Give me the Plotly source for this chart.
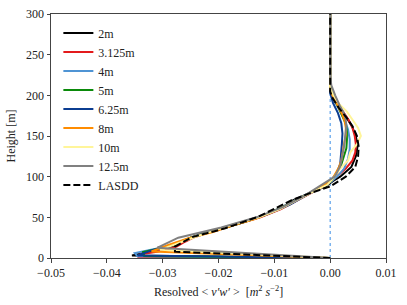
import plotly.graph_objects as go

# ---- data ----
labels = ["2m", "3.125m", "4m", "5m", "6.25m", "8m", "10m", "12.5m", "LASDD"]
colors = ["#000000", "#e31a1c", "#4f94d4", "#0a8a0a", "#0b3d91", "#ff8c00", "#fff59a", "#808080", "#000000"]

z_2m = [0, 3, 6, 10, 15, 20, 25, 31, 37, 44, 50, 60, 71, 80, 88, 95, 100, 112, 125, 137, 150, 162, 172, 185, 198, 210, 300]
v_2m = [0, -0.0355, -0.0335, -0.031, -0.028, -0.0265, -0.025, -0.0225, -0.019, -0.0155, -0.0128, -0.009, -0.0066, -0.0036,
        -0.0008, 0.0006, 0.0018, 0.0038, 0.0046, 0.0049, 0.0046, 0.0039, 0.003, 0.0016, 0.0004, 0.0, 0.0]

z_3m = [0, 1.6, 4.7, 7.8, 11, 14, 20, 25, 31, 37, 44, 50, 60, 70, 80, 88, 95, 100, 110, 120, 130, 140, 150, 160, 170, 180,
        190, 200, 210, 300]
v_3m = [0, -0.0345, -0.034, -0.031, -0.029, -0.0275, -0.026, -0.0245, -0.022, -0.019, -0.0155, -0.0125, -0.0088, -0.006,
        -0.0033, -0.0012, 0.0003, 0.0012, 0.0028, 0.004, 0.0045, 0.0046, 0.0044, 0.004, 0.0033, 0.0023, 0.0012, 0.0004,
        0.0, 0.0]

z_4m = [0, 2, 6, 10, 14, 18, 22, 26, 34, 42, 50, 62, 74, 86, 94, 102, 110, 122, 134, 146, 158, 170, 182, 194, 206, 214, 300]
v_4m = [0, -0.0345, -0.035, -0.032, -0.0295, -0.0275, -0.026, -0.0245, -0.021, -0.0165, -0.0128, -0.0088, -0.0055, -0.0022,
        0.0002, 0.0015, 0.0025, 0.0032, 0.0035, 0.0035, 0.0032, 0.0026, 0.0017, 0.0007, 0.0001, 0.0, 0.0]

z_5m = [0, 2.5, 7.5, 12.5, 17.5, 25, 35, 45, 55, 65, 75, 85, 95, 105, 115, 125, 135, 145, 155, 165, 175, 185, 195, 205, 215, 300]
v_5m = [0, -0.0333, -0.0335, -0.030, -0.0278, -0.025, -0.020, -0.015, -0.011, -0.0078, -0.005, -0.0022, 0.0002, 0.0012,
        0.002, 0.0025, 0.0029, 0.003, 0.003, 0.0028, 0.0022, 0.0015, 0.0007, 0.0002, 0.0, 0.0]

z_6m = [0, 3.1, 9.4, 15.6, 21.9, 28.1, 40.6, 53.1, 65.6, 78.1, 90.6, 103.1, 115.6, 128.1, 140.6, 153.1, 165.6, 178.1,
        190.6, 203.1, 300]
v_6m = [0, -0.0345, -0.032, -0.0285, -0.026, -0.0235, -0.0175, -0.0115, -0.0072, -0.004, -0.0005, 0.0011, 0.0018, 0.002,
        0.0021, 0.0022, 0.002, 0.0014, 0.0005, 0.0, 0.0]

z_8m = [0, 8, 16, 24, 32, 40, 48, 56, 64, 72, 80, 88, 96, 104, 112, 120, 128, 136, 144, 152, 160, 168, 176, 184, 192, 200,
        208, 300]
v_8m = [0, -0.032, -0.029, -0.0255, -0.021, -0.0175, -0.0135, -0.0105, -0.008, -0.0058, -0.0035, -0.0015, 0.0003, 0.001,
        0.0016, 0.002, 0.0022, 0.0024, 0.0026, 0.0028, 0.0028, 0.0026, 0.0022, 0.0016, 0.0009, 0.0004, 0.0, 0.0]

z_10m = [0, 10, 20, 30, 40, 50, 60, 70, 80, 90, 100, 110, 120, 130, 140, 150, 160, 170, 180, 190, 200, 210, 300]
v_10m = [0, -0.0305, -0.0265, -0.0225, -0.018, -0.0128, -0.009, -0.0063, -0.0035, -0.0005, 0.0008, 0.0018, 0.0032, 0.0036,
         0.0048, 0.0055, 0.005, 0.004, 0.003, 0.0015, 0.0006, 0.0, 0.0]

z_12m = [0, 12.5, 25, 37.5, 50, 62.5, 75, 87.5, 100, 112.5, 125, 137.5, 150, 162.5, 175, 187.5, 200, 212.5, 225, 300]
v_12m = [0, -0.031, -0.0272, -0.0195, -0.0132, -0.0085, -0.005, -0.002, 0.0008, 0.0018, 0.0022, 0.0025, 0.0027, 0.0029,
         0.0027, 0.0017, 0.0009, 0.0002, 0.0, 0.0]

z_lasdd = [0, 7.8, 14, 25.5, 36.5, 51, 71, 80, 88, 100, 112, 125, 137, 150, 162, 172, 185, 198, 205, 300]
v_lasdd = [0, -0.0278, -0.0278, -0.0248, -0.0188, -0.0128, -0.0069, -0.0035, 0.0, 0.0028, 0.0045, 0.005, 0.0051, 0.0048,
           0.004, 0.003, 0.0015, 0.0003, 0.0, 0.0]

x_ticks = [-0.05, -0.04, -0.03, -0.02, -0.01, 0.0, 0.01]
y_ticks = [0, 50, 100, 150, 200, 250, 300]

series_z = [z_2m, z_3m, z_4m, z_5m, z_6m, z_8m, z_10m, z_12m, z_lasdd]
series_v = [v_2m, v_3m, v_4m, v_5m, v_6m, v_8m, v_10m, v_12m, v_lasdd]

FONT = "'Liberation Serif', 'Times New Roman', serif"

fig = go.Figure()
for i, (lab, col, zz, vv) in enumerate(zip(labels, colors, series_z, series_v)):
    fig.add_trace(go.Scatter(
        x=vv, y=zz, mode="lines", name=lab,
        line=dict(color=col, width=2, dash="7px,3px" if lab == "LASDD" else "solid"),
    ))

fig.add_shape(type="line", xref="x", yref="paper", x0=0, x1=0, y0=0, y1=1,
              line=dict(color="#3a8ee6", width=1, dash="dot"), layer="below")

fig.update_layout(
    width=407, height=305,
    margin=dict(l=51, r=21, t=14, b=47, autoexpand=False),
    paper_bgcolor="white", plot_bgcolor="white",
    font=dict(family=FONT, size=12, color="#222"),
    showlegend=True,
    legend=dict(x=0.022, y=0.982, xanchor="left", yanchor="top", bgcolor="rgba(0,0,0,0)",
                borderwidth=0, font=dict(family=FONT, size=12), tracegroupgap=0, maxheight=400),
    xaxis=dict(range=[-0.05, 0.01], tickvals=x_ticks, tickformat=".2f", showgrid=False, zeroline=False,
               showline=True, linecolor="#444", linewidth=1, mirror=True, ticks="outside", ticklen=3.5,
               tickcolor="#444", tickfont=dict(family=FONT, size=12), automargin=False,
               title=dict(text="Resolved &lt; <i>v′w′</i> &gt;  [<i>m</i><sup>2</sup> <i>s</i><sup>−2</sup>]",
                          font=dict(family=FONT, size=12), standoff=8)),
    yaxis=dict(range=[0, 300], tickvals=y_ticks, showgrid=False, zeroline=False,
               showline=True, linecolor="#444", linewidth=1, mirror=True, ticks="outside", ticklen=3.5,
               tickcolor="#444", tickfont=dict(family=FONT, size=12), automargin=False,
               title=dict(text="Height [m]", font=dict(family=FONT, size=12), standoff=7)),
)

fig.write_html("out.html", config={"displayModeBar": False},
               post_script="document.body.style.margin='0';document.body.style.overflow='hidden';")
